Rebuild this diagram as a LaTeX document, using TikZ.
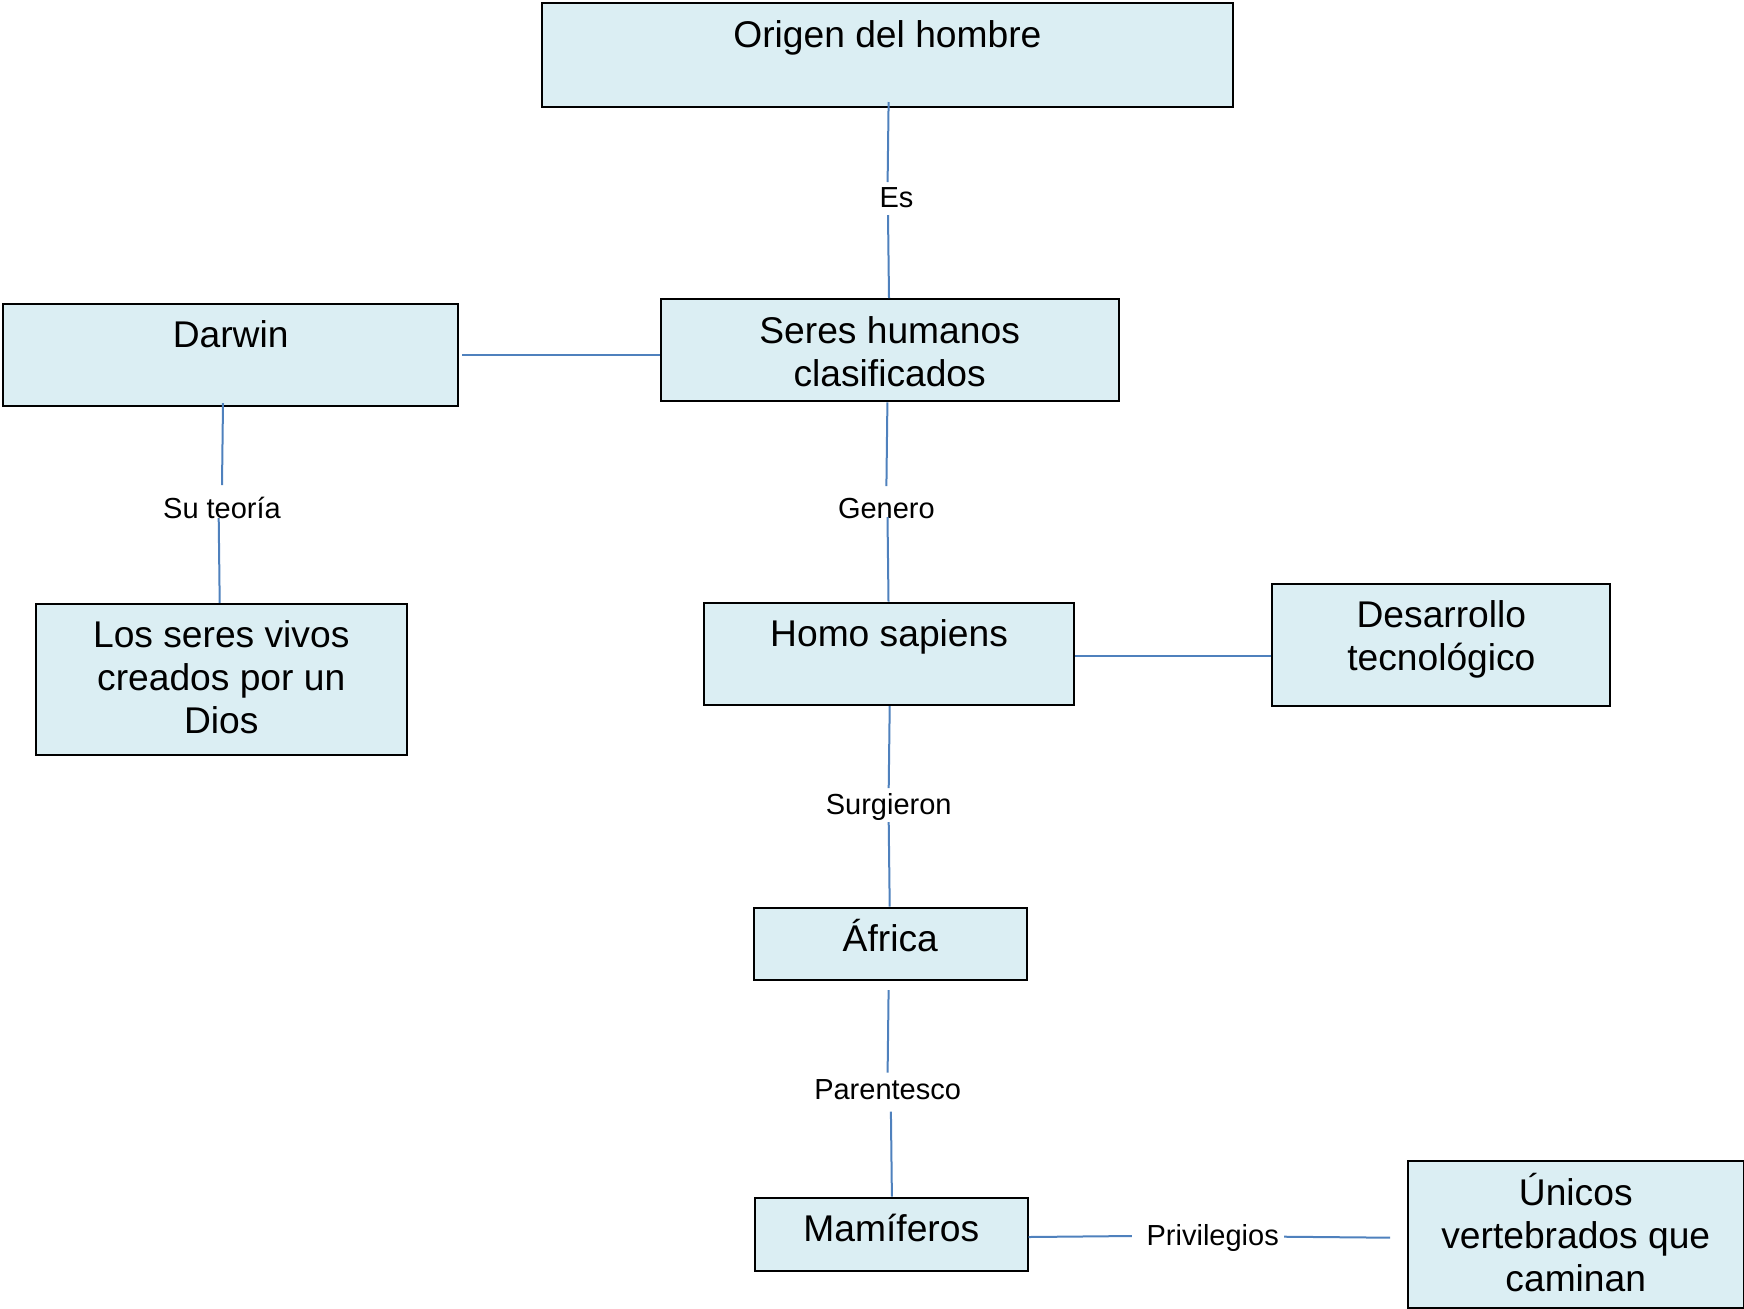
\documentclass[tikz,border=0pt]{standalone}
\usepackage{fontspec}
\setmainfont{Liberation Sans}
\usetikzlibrary{calc}
\definecolor{boxfill}{HTML}{DBEEF3}
\definecolor{linkblue}{HTML}{4F81BD}
\begin{document}
\begin{tikzpicture}[x=0.5pt,y=-0.5pt,
  box/.style={draw=black,line width=1pt,fill=boxfill,anchor=north west,inner sep=0pt},
  boxtext/.style={font=\fontsize{18.6pt}{21.5pt}\selectfont,align=center,anchor=base,inner sep=0pt},
  lbl/.style={font=\fontsize{14.5pt}{17pt}\selectfont,anchor=base,inner sep=0pt},
  conn/.style={draw=linkblue,line width=1pt}]
\useasboundingbox (0,0) rectangle (1744,1308);

% boxes
\node[box,minimum width=345.9pt,minimum height=51.75pt] (origen) at (540.5,2.2) {};
\node[box,minimum width=227.45pt,minimum height=51.15pt] (darwin) at (2.2,302.5) {};
\node[box,minimum width=229.15pt,minimum height=51.15pt] (seres) at (659.5,298.1) {};
\node[box,minimum width=185.75pt,minimum height=75.65pt] (vivos) at (34.5,602.8) {};
\node[box,minimum width=185.2pt,minimum height=51.15pt] (homo) at (702.9,601.7) {};
\node[box,minimum width=169.05pt,minimum height=61.15pt] (desa) at (1271.3,582.8) {};
\node[box,minimum width=136.25pt,minimum height=36.15pt] (africa) at (753,906.5) {};
\node[box,minimum width=136.3pt,minimum height=36.7pt] (mam) at (754,1196.7) {};
\node[box,minimum width=167.75pt,minimum height=73.25pt] (unicos) at (1407,1160) {};

% box texts (base anchor = last line's baseline; lines 43px apart)
\node[boxtext] (origenT) at ($(origen.north)+(0,45)$) {Origen del hombre};
\node[boxtext] (darwinT) at ($(darwin.north)+(0,45)$) {Darwin};
\node[boxtext] (seresT) at ($(seres.north)+(0,88)$) {Seres humanos\\clasificados};
\node[boxtext] (vivosT) at ($(vivos.north)+(0,131)$) {Los seres vivos\\creados por un\\Dios};
\node[boxtext] (homoT) at ($(homo.north)+(0,45)$) {Homo sapiens};
\node[boxtext] (desaT) at ($(desa.north)+(0,88)$) {Desarrollo\\tecnológico};
\node[boxtext] (africaT) at ($(africa.north)+(0,45)$) {África};
\node[boxtext] (mamT) at ($(mam.north)+(0,45)$) {Mamíferos};
\node[boxtext] (unicosT) at ($(unicos.north)+(0,131)$) {Únicos\\vertebrados que\\caminan};

% labels
\node[lbl] (lEs) at (896.5,207.5) {Es};
\node[lbl] (lSu) at (222,518.5) {Su teoría};
\node[lbl] (lGen) at (886.4,518.5) {Genero};
\node[lbl] (lSur) at (888.7,814.5) {Surgieron};
\node[lbl] (lPar) at (887.6,1099.5) {Parentesco};
\node[lbl] (lPriv) at (1212.7,1245.5) {Privilegios};

% connectors
\draw[conn] ($(origen.south)+(1.2,-5.7)$) -- ($(lEs.base)+(-8.9,-25.5)$);
\draw[conn] ($(lEs.base)+(-8.5,7.5)$) -- ($(seres.north)+(-0.65,0)$);

\draw[conn] ($(darwin.east)+(3,0)$) -- (seres.west |- darwin.east);

\draw[conn] ($(darwin.south)+(-7.65,-3.8)$) -- ($(lSu.base)+(0,-33.5)$);
\draw[conn] ($(lSu.base)+(-3.3,-0.5)$) -- ($(vivos.north)+(-1.55,0)$);

\draw[conn] ($(seres.south)+(-2.25,0)$) -- ($(lGen.base)+(0,-32.5)$);
\draw[conn] ($(lGen.base)+(1.1,-1.5)$) -- ($(homo.north)+(-0.6,0)$);

\draw[conn] ($(homo.east)+(0,2)$) -- ($(desa.west |- homo.east)+(0,2)$);

\draw[conn] ($(homo.south)+(0.6,0)$) -- ($(lSur.base)+(0,-26.5)$);
\draw[conn] ($(lSur.base)+(0,7.5)$) -- ($(africa.north)+(-0.55,0)$);

\draw[conn] ($(africa.south)+(-1.65,9.2)$) -- ($(lPar.base)+(0,-26.8)$);
\draw[conn] ($(lPar.base)+(3.3,12.2)$) -- ($(mam.north)+(0.6,0)$);

\draw[conn] ($(mam.east)+(0,2.6)$) -- ($(lPriv.base)+(-80.9,-9.5)$);
\draw[conn] ($(lPriv.base)+(71.3,-8.8)$) -- ($(unicos.west)+(-17,3.45)$);
\end{tikzpicture}
\end{document}
